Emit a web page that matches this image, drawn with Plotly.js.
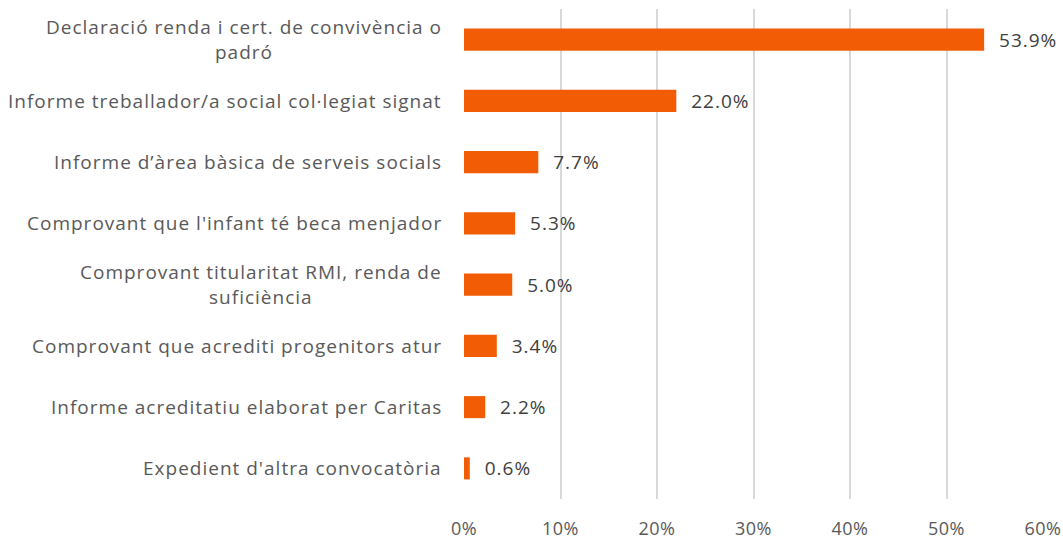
<!DOCTYPE html>
<html><head><meta charset="utf-8">
<script src="https://cdn.plot.ly/plotly-3.0.1.min.js"></script>
<style>html,body{margin:0;padding:0;background:#fff}#chart{width:1063px;height:540px}
.annotation-text, .bartext {letter-spacing: 1px;}
.xtick text {letter-spacing: 0.5px;}
</style>
</head><body><div id="chart"></div>
<script>
var categories = [
  "Declaració renda i cert. de convivència o<br>padró",
  "Informe treballador/a social col·legiat signat",
  "Informe d’àrea bàsica de serveis socials",
  "Comprovant que l'infant té beca menjador",
  "Comprovant titularitat RMI, renda de<br>suficiència",
  "Comprovant que acrediti progenitors atur",
  "Informe acreditatiu elaborat per Caritas",
  "Expedient d'altra convocatòria"
];
var values = [53.9, 22.0, 7.7, 5.3, 5.0, 3.4, 2.2, 0.6];
var xTicks = [0, 10, 20, 30, 40, 50, 60];

var FONT = "'Open Sans', sans-serif";
var trace = {
  type: 'bar', orientation: 'h',
  x: values, y: categories,
  marker: {color: '#f25c05'},
  text: values.map(function(v){return '\u00a0\u00a0' + v.toFixed(1) + '%';}),
  textposition: 'outside', cliponaxis: false, constraintext: 'none',
  textfont: {family: FONT, size: 19, color: '#404040'},
  hoverinfo: 'none'
};
var annotations = categories.map(function(c){
  return {xref: 'paper', yref: 'y', x: 0, y: c, xanchor: 'right', xshift: -20,
    text: c, showarrow: false, align: 'center',
    font: {family: FONT, size: 19, color: '#595959'}};
});
var layout = {
  width: 1063, height: 540,
  margin: {l: 464, r: 20, t: 9, b: 41},
  paper_bgcolor: '#fff', plot_bgcolor: '#fff',
  showlegend: false, bargap: 0.64,
  font: {family: FONT, size: 18, color: '#595959'},
  xaxis: {range: [0, 60], tickvals: xTicks, ticktext: xTicks.map(function(t){return t + '%';}),
    showgrid: true, gridcolor: '#d9d9d9', gridwidth: 2, zeroline: false, showline: false,
    ticks: '', ticklabelstandoff: 17, tickfont: {family: FONT, size: 18, color: '#595959'},
    fixedrange: true},
  yaxis: {autorange: 'reversed', showticklabels: false, showgrid: false, zeroline: false,
    showline: false, ticks: '', fixedrange: true},
  annotations: annotations
};
Plotly.newPlot('chart', [trace], layout, {displayModeBar: false, staticPlot: true});
</script></body></html>
